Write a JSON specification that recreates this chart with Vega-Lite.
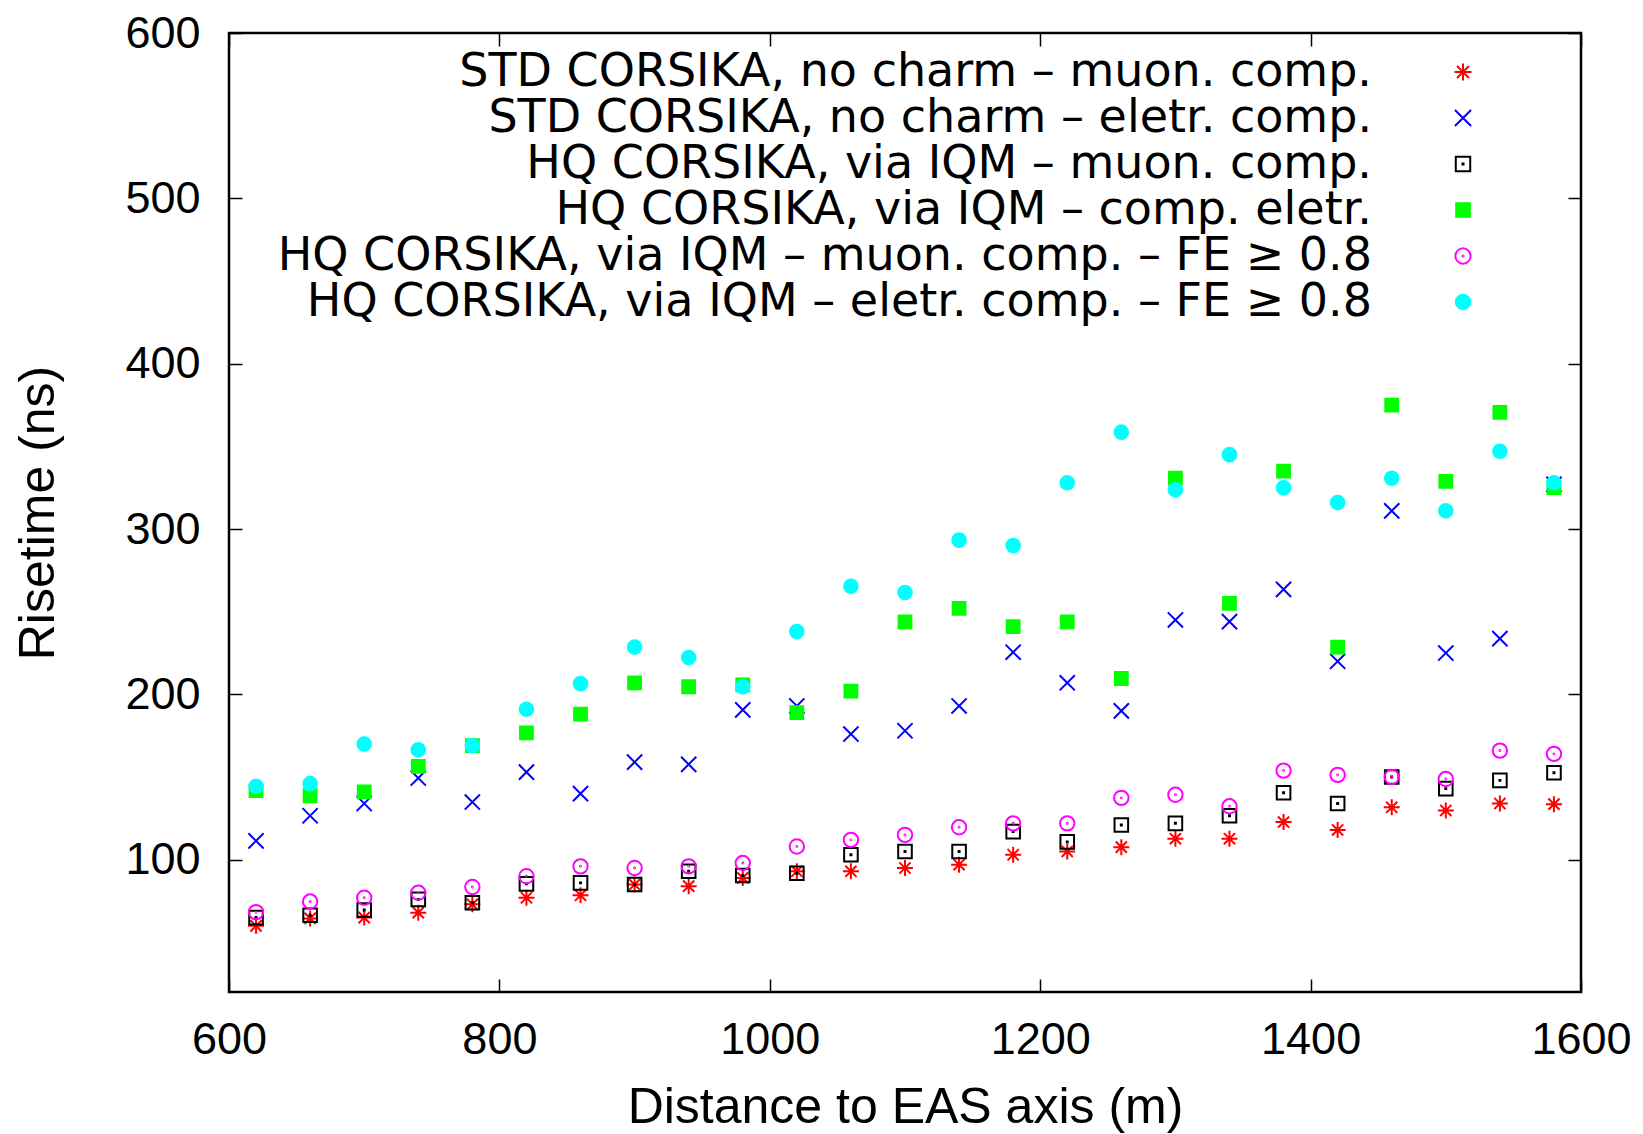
{
  "$schema": "https://vega.github.io/schema/vega-lite/v6.json",
  "width": 1352,
  "height": 959,
  "autosize": {"type": "none"},
  "padding": {"left": 229, "top": 33, "right": 62, "bottom": 142},
  "background": "white",
  "config": {
    "font": "Liberation Sans",
    "view": {"stroke": "black", "strokeWidth": 2.5},
    "axis": {"grid": false, "domain": false, "tickColor": "black", "tickWidth": 1.5, "labelColor": "black", "titleColor": "black", "labelFont": "Liberation Sans", "titleFont": "Liberation Sans", "labelFontSize": 45, "titleFontSize": 50, "titleFontWeight": "normal", "labelFlush": false, "labelOverlap": false}
  },
  "data": {"values": [
    {"s": "STD CORSIKA, no charm – muon. comp.", "x": 620, "y": 60},
    {"s": "STD CORSIKA, no charm – muon. comp.", "x": 660, "y": 64.5},
    {"s": "STD CORSIKA, no charm – muon. comp.", "x": 700, "y": 65},
    {"s": "STD CORSIKA, no charm – muon. comp.", "x": 740, "y": 68},
    {"s": "STD CORSIKA, no charm – muon. comp.", "x": 780, "y": 73},
    {"s": "STD CORSIKA, no charm – muon. comp.", "x": 820, "y": 77},
    {"s": "STD CORSIKA, no charm – muon. comp.", "x": 860, "y": 78.5},
    {"s": "STD CORSIKA, no charm – muon. comp.", "x": 900, "y": 85},
    {"s": "STD CORSIKA, no charm – muon. comp.", "x": 940, "y": 84},
    {"s": "STD CORSIKA, no charm – muon. comp.", "x": 980, "y": 89},
    {"s": "STD CORSIKA, no charm – muon. comp.", "x": 1020, "y": 93},
    {"s": "STD CORSIKA, no charm – muon. comp.", "x": 1060, "y": 93},
    {"s": "STD CORSIKA, no charm – muon. comp.", "x": 1100, "y": 95},
    {"s": "STD CORSIKA, no charm – muon. comp.", "x": 1140, "y": 97},
    {"s": "STD CORSIKA, no charm – muon. comp.", "x": 1180, "y": 103},
    {"s": "STD CORSIKA, no charm – muon. comp.", "x": 1220, "y": 105},
    {"s": "STD CORSIKA, no charm – muon. comp.", "x": 1260, "y": 107.6},
    {"s": "STD CORSIKA, no charm – muon. comp.", "x": 1300, "y": 112.7},
    {"s": "STD CORSIKA, no charm – muon. comp.", "x": 1340, "y": 112.7},
    {"s": "STD CORSIKA, no charm – muon. comp.", "x": 1380, "y": 122.8},
    {"s": "STD CORSIKA, no charm – muon. comp.", "x": 1420, "y": 118},
    {"s": "STD CORSIKA, no charm – muon. comp.", "x": 1460, "y": 131.7},
    {"s": "STD CORSIKA, no charm – muon. comp.", "x": 1500, "y": 129.8},
    {"s": "STD CORSIKA, no charm – muon. comp.", "x": 1540, "y": 134},
    {"s": "STD CORSIKA, no charm – muon. comp.", "x": 1580, "y": 133.6},
    {"s": "STD CORSIKA, no charm – eletr. comp.", "x": 620, "y": 111.4},
    {"s": "STD CORSIKA, no charm – eletr. comp.", "x": 660, "y": 126.6},
    {"s": "STD CORSIKA, no charm – eletr. comp.", "x": 700, "y": 134},
    {"s": "STD CORSIKA, no charm – eletr. comp.", "x": 740, "y": 149.4},
    {"s": "STD CORSIKA, no charm – eletr. comp.", "x": 780, "y": 134.9},
    {"s": "STD CORSIKA, no charm – eletr. comp.", "x": 820, "y": 153},
    {"s": "STD CORSIKA, no charm – eletr. comp.", "x": 860, "y": 140},
    {"s": "STD CORSIKA, no charm – eletr. comp.", "x": 900, "y": 159},
    {"s": "STD CORSIKA, no charm – eletr. comp.", "x": 940, "y": 157.7},
    {"s": "STD CORSIKA, no charm – eletr. comp.", "x": 980, "y": 190.6},
    {"s": "STD CORSIKA, no charm – eletr. comp.", "x": 1020, "y": 193},
    {"s": "STD CORSIKA, no charm – eletr. comp.", "x": 1060, "y": 176},
    {"s": "STD CORSIKA, no charm – eletr. comp.", "x": 1100, "y": 178},
    {"s": "STD CORSIKA, no charm – eletr. comp.", "x": 1140, "y": 193},
    {"s": "STD CORSIKA, no charm – eletr. comp.", "x": 1180, "y": 225.5},
    {"s": "STD CORSIKA, no charm – eletr. comp.", "x": 1220, "y": 207},
    {"s": "STD CORSIKA, no charm – eletr. comp.", "x": 1260, "y": 190},
    {"s": "STD CORSIKA, no charm – eletr. comp.", "x": 1300, "y": 245},
    {"s": "STD CORSIKA, no charm – eletr. comp.", "x": 1340, "y": 244},
    {"s": "STD CORSIKA, no charm – eletr. comp.", "x": 1380, "y": 263.5},
    {"s": "STD CORSIKA, no charm – eletr. comp.", "x": 1420, "y": 220},
    {"s": "STD CORSIKA, no charm – eletr. comp.", "x": 1460, "y": 311},
    {"s": "STD CORSIKA, no charm – eletr. comp.", "x": 1500, "y": 225},
    {"s": "STD CORSIKA, no charm – eletr. comp.", "x": 1540, "y": 233.7},
    {"s": "STD CORSIKA, no charm – eletr. comp.", "x": 1580, "y": 327},
    {"s": "HQ CORSIKA, via IQM – muon. comp.", "x": 620, "y": 65},
    {"s": "HQ CORSIKA, via IQM – muon. comp.", "x": 660, "y": 66.4},
    {"s": "HQ CORSIKA, via IQM – muon. comp.", "x": 700, "y": 69.6},
    {"s": "HQ CORSIKA, via IQM – muon. comp.", "x": 740, "y": 76},
    {"s": "HQ CORSIKA, via IQM – muon. comp.", "x": 780, "y": 74},
    {"s": "HQ CORSIKA, via IQM – muon. comp.", "x": 820, "y": 85.4},
    {"s": "HQ CORSIKA, via IQM – muon. comp.", "x": 860, "y": 86},
    {"s": "HQ CORSIKA, via IQM – muon. comp.", "x": 900, "y": 85},
    {"s": "HQ CORSIKA, via IQM – muon. comp.", "x": 940, "y": 93},
    {"s": "HQ CORSIKA, via IQM – muon. comp.", "x": 980, "y": 90.5},
    {"s": "HQ CORSIKA, via IQM – muon. comp.", "x": 1020, "y": 91.8},
    {"s": "HQ CORSIKA, via IQM – muon. comp.", "x": 1060, "y": 103},
    {"s": "HQ CORSIKA, via IQM – muon. comp.", "x": 1100, "y": 105},
    {"s": "HQ CORSIKA, via IQM – muon. comp.", "x": 1140, "y": 105},
    {"s": "HQ CORSIKA, via IQM – muon. comp.", "x": 1180, "y": 117},
    {"s": "HQ CORSIKA, via IQM – muon. comp.", "x": 1220, "y": 110.8},
    {"s": "HQ CORSIKA, via IQM – muon. comp.", "x": 1260, "y": 121},
    {"s": "HQ CORSIKA, via IQM – muon. comp.", "x": 1300, "y": 122},
    {"s": "HQ CORSIKA, via IQM – muon. comp.", "x": 1340, "y": 126.6},
    {"s": "HQ CORSIKA, via IQM – muon. comp.", "x": 1380, "y": 140.5},
    {"s": "HQ CORSIKA, via IQM – muon. comp.", "x": 1420, "y": 134},
    {"s": "HQ CORSIKA, via IQM – muon. comp.", "x": 1460, "y": 150},
    {"s": "HQ CORSIKA, via IQM – muon. comp.", "x": 1500, "y": 143},
    {"s": "HQ CORSIKA, via IQM – muon. comp.", "x": 1540, "y": 148},
    {"s": "HQ CORSIKA, via IQM – muon. comp.", "x": 1580, "y": 152.6},
    {"s": "HQ CORSIKA, via IQM – comp. eletr.", "x": 620, "y": 141.8},
    {"s": "HQ CORSIKA, via IQM – comp. eletr.", "x": 660, "y": 138.7},
    {"s": "HQ CORSIKA, via IQM – comp. eletr.", "x": 700, "y": 141},
    {"s": "HQ CORSIKA, via IQM – comp. eletr.", "x": 740, "y": 156.4},
    {"s": "HQ CORSIKA, via IQM – comp. eletr.", "x": 780, "y": 169},
    {"s": "HQ CORSIKA, via IQM – comp. eletr.", "x": 820, "y": 176.7},
    {"s": "HQ CORSIKA, via IQM – comp. eletr.", "x": 860, "y": 188},
    {"s": "HQ CORSIKA, via IQM – comp. eletr.", "x": 900, "y": 207},
    {"s": "HQ CORSIKA, via IQM – comp. eletr.", "x": 940, "y": 204.6},
    {"s": "HQ CORSIKA, via IQM – comp. eletr.", "x": 980, "y": 205.8},
    {"s": "HQ CORSIKA, via IQM – comp. eletr.", "x": 1020, "y": 189},
    {"s": "HQ CORSIKA, via IQM – comp. eletr.", "x": 1060, "y": 202},
    {"s": "HQ CORSIKA, via IQM – comp. eletr.", "x": 1100, "y": 243.9},
    {"s": "HQ CORSIKA, via IQM – comp. eletr.", "x": 1140, "y": 252},
    {"s": "HQ CORSIKA, via IQM – comp. eletr.", "x": 1180, "y": 241},
    {"s": "HQ CORSIKA, via IQM – comp. eletr.", "x": 1220, "y": 243.9},
    {"s": "HQ CORSIKA, via IQM – comp. eletr.", "x": 1260, "y": 209.6},
    {"s": "HQ CORSIKA, via IQM – comp. eletr.", "x": 1300, "y": 330.7},
    {"s": "HQ CORSIKA, via IQM – comp. eletr.", "x": 1340, "y": 255},
    {"s": "HQ CORSIKA, via IQM – comp. eletr.", "x": 1380, "y": 335},
    {"s": "HQ CORSIKA, via IQM – comp. eletr.", "x": 1420, "y": 228.6},
    {"s": "HQ CORSIKA, via IQM – comp. eletr.", "x": 1460, "y": 375},
    {"s": "HQ CORSIKA, via IQM – comp. eletr.", "x": 1500, "y": 328.8},
    {"s": "HQ CORSIKA, via IQM – comp. eletr.", "x": 1540, "y": 370.6},
    {"s": "HQ CORSIKA, via IQM – comp. eletr.", "x": 1580, "y": 325},
    {"s": "HQ CORSIKA, via IQM – muon. comp. – FE ≥ 0.8", "x": 620, "y": 68.3},
    {"s": "HQ CORSIKA, via IQM – muon. comp. – FE ≥ 0.8", "x": 660, "y": 74.7},
    {"s": "HQ CORSIKA, via IQM – muon. comp. – FE ≥ 0.8", "x": 700, "y": 77},
    {"s": "HQ CORSIKA, via IQM – muon. comp. – FE ≥ 0.8", "x": 740, "y": 80},
    {"s": "HQ CORSIKA, via IQM – muon. comp. – FE ≥ 0.8", "x": 780, "y": 83.5},
    {"s": "HQ CORSIKA, via IQM – muon. comp. – FE ≥ 0.8", "x": 820, "y": 90},
    {"s": "HQ CORSIKA, via IQM – muon. comp. – FE ≥ 0.8", "x": 860, "y": 96},
    {"s": "HQ CORSIKA, via IQM – muon. comp. – FE ≥ 0.8", "x": 900, "y": 95},
    {"s": "HQ CORSIKA, via IQM – muon. comp. – FE ≥ 0.8", "x": 940, "y": 96},
    {"s": "HQ CORSIKA, via IQM – muon. comp. – FE ≥ 0.8", "x": 980, "y": 98},
    {"s": "HQ CORSIKA, via IQM – muon. comp. – FE ≥ 0.8", "x": 1020, "y": 108},
    {"s": "HQ CORSIKA, via IQM – muon. comp. – FE ≥ 0.8", "x": 1060, "y": 112},
    {"s": "HQ CORSIKA, via IQM – muon. comp. – FE ≥ 0.8", "x": 1100, "y": 115},
    {"s": "HQ CORSIKA, via IQM – muon. comp. – FE ≥ 0.8", "x": 1140, "y": 119.6},
    {"s": "HQ CORSIKA, via IQM – muon. comp. – FE ≥ 0.8", "x": 1180, "y": 122},
    {"s": "HQ CORSIKA, via IQM – muon. comp. – FE ≥ 0.8", "x": 1220, "y": 122},
    {"s": "HQ CORSIKA, via IQM – muon. comp. – FE ≥ 0.8", "x": 1260, "y": 137.4},
    {"s": "HQ CORSIKA, via IQM – muon. comp. – FE ≥ 0.8", "x": 1300, "y": 139.3},
    {"s": "HQ CORSIKA, via IQM – muon. comp. – FE ≥ 0.8", "x": 1340, "y": 132.3},
    {"s": "HQ CORSIKA, via IQM – muon. comp. – FE ≥ 0.8", "x": 1380, "y": 153.9},
    {"s": "HQ CORSIKA, via IQM – muon. comp. – FE ≥ 0.8", "x": 1420, "y": 151.3},
    {"s": "HQ CORSIKA, via IQM – muon. comp. – FE ≥ 0.8", "x": 1460, "y": 150},
    {"s": "HQ CORSIKA, via IQM – muon. comp. – FE ≥ 0.8", "x": 1500, "y": 148.8},
    {"s": "HQ CORSIKA, via IQM – muon. comp. – FE ≥ 0.8", "x": 1540, "y": 166},
    {"s": "HQ CORSIKA, via IQM – muon. comp. – FE ≥ 0.8", "x": 1580, "y": 164},
    {"s": "HQ CORSIKA, via IQM – eletr. comp. – FE ≥ 0.8", "x": 620, "y": 144.4},
    {"s": "HQ CORSIKA, via IQM – eletr. comp. – FE ≥ 0.8", "x": 660, "y": 146},
    {"s": "HQ CORSIKA, via IQM – eletr. comp. – FE ≥ 0.8", "x": 700, "y": 170},
    {"s": "HQ CORSIKA, via IQM – eletr. comp. – FE ≥ 0.8", "x": 740, "y": 166.5},
    {"s": "HQ CORSIKA, via IQM – eletr. comp. – FE ≥ 0.8", "x": 780, "y": 169},
    {"s": "HQ CORSIKA, via IQM – eletr. comp. – FE ≥ 0.8", "x": 820, "y": 191},
    {"s": "HQ CORSIKA, via IQM – eletr. comp. – FE ≥ 0.8", "x": 860, "y": 206.5},
    {"s": "HQ CORSIKA, via IQM – eletr. comp. – FE ≥ 0.8", "x": 900, "y": 228.6},
    {"s": "HQ CORSIKA, via IQM – eletr. comp. – FE ≥ 0.8", "x": 940, "y": 222.3},
    {"s": "HQ CORSIKA, via IQM – eletr. comp. – FE ≥ 0.8", "x": 980, "y": 204.6},
    {"s": "HQ CORSIKA, via IQM – eletr. comp. – FE ≥ 0.8", "x": 1020, "y": 238},
    {"s": "HQ CORSIKA, via IQM – eletr. comp. – FE ≥ 0.8", "x": 1060, "y": 265.4},
    {"s": "HQ CORSIKA, via IQM – eletr. comp. – FE ≥ 0.8", "x": 1100, "y": 261.6},
    {"s": "HQ CORSIKA, via IQM – eletr. comp. – FE ≥ 0.8", "x": 1140, "y": 293.3},
    {"s": "HQ CORSIKA, via IQM – eletr. comp. – FE ≥ 0.8", "x": 1180, "y": 290},
    {"s": "HQ CORSIKA, via IQM – eletr. comp. – FE ≥ 0.8", "x": 1220, "y": 328},
    {"s": "HQ CORSIKA, via IQM – eletr. comp. – FE ≥ 0.8", "x": 1260, "y": 358.6},
    {"s": "HQ CORSIKA, via IQM – eletr. comp. – FE ≥ 0.8", "x": 1300, "y": 323.7},
    {"s": "HQ CORSIKA, via IQM – eletr. comp. – FE ≥ 0.8", "x": 1340, "y": 345},
    {"s": "HQ CORSIKA, via IQM – eletr. comp. – FE ≥ 0.8", "x": 1380, "y": 325},
    {"s": "HQ CORSIKA, via IQM – eletr. comp. – FE ≥ 0.8", "x": 1420, "y": 316},
    {"s": "HQ CORSIKA, via IQM – eletr. comp. – FE ≥ 0.8", "x": 1460, "y": 330.7},
    {"s": "HQ CORSIKA, via IQM – eletr. comp. – FE ≥ 0.8", "x": 1500, "y": 311},
    {"s": "HQ CORSIKA, via IQM – eletr. comp. – FE ≥ 0.8", "x": 1540, "y": 347},
    {"s": "HQ CORSIKA, via IQM – eletr. comp. – FE ≥ 0.8", "x": 1580, "y": 328}
  ]},
  "resolve": {"axis": {"x": "independent", "y": "independent"}},
  "layer": [
    {
      "mark": {"type": "point", "filled": false, "strokeWidth": 2, "size": 256, "opacity": 1},
      "encoding": {
        "x": {"field": "x", "type": "quantitative", "scale": {"domain": [600, 1600], "nice": false, "zero": false},
          "axis": {"values": [600, 800, 1000, 1200, 1400, 1600], "format": "d", "tickSize": -13, "labelPadding": 38, "title": "Distance to EAS axis (m)", "titlePadding": 20}},
        "y": {"field": "y", "type": "quantitative", "scale": {"domain": [20, 600], "nice": false, "zero": false},
          "axis": {"values": [100, 200, 300, 400, 500, 600], "format": "d", "tickSize": -13, "labelPadding": 42, "title": "Risetime (ns)", "titlePadding": 61}},
        "color": {"field": "s", "type": "nominal",
          "scale": {"domain": ["STD CORSIKA, no charm – muon. comp.", "STD CORSIKA, no charm – eletr. comp.", "HQ CORSIKA, via IQM – muon. comp.", "HQ CORSIKA, via IQM – comp. eletr.", "HQ CORSIKA, via IQM – muon. comp. – FE ≥ 0.8", "HQ CORSIKA, via IQM – eletr. comp. – FE ≥ 0.8"],
            "range": ["#ff0000", "#0000ff", "#000000", "#00ff00", "#ff00ff", "#00ffff"]},
          "legend": {"orient": "none", "legendX": 1211, "legendY": 16, "title": null, "labelAlign": "right", "labelOffset": -114, "labelFontSize": 46, "labelFont": "DejaVu Sans", "labelColor": "black", "labelLimit": 0, "symbolSize": 289, "symbolStrokeWidth": 2, "rowPadding": 0}},
        "fill": {"field": "s", "type": "nominal",
          "scale": {"domain": ["STD CORSIKA, no charm – muon. comp.", "STD CORSIKA, no charm – eletr. comp.", "HQ CORSIKA, via IQM – muon. comp.", "HQ CORSIKA, via IQM – comp. eletr.", "HQ CORSIKA, via IQM – muon. comp. – FE ≥ 0.8", "HQ CORSIKA, via IQM – eletr. comp. – FE ≥ 0.8"],
            "range": ["transparent", "transparent", "transparent", "#00ff00", "transparent", "#00ffff"]}},
        "shape": {"field": "s", "type": "nominal",
          "scale": {"domain": ["STD CORSIKA, no charm – muon. comp.", "STD CORSIKA, no charm – eletr. comp.", "HQ CORSIKA, via IQM – muon. comp.", "HQ CORSIKA, via IQM – comp. eletr.", "HQ CORSIKA, via IQM – muon. comp. – FE ≥ 0.8", "HQ CORSIKA, via IQM – eletr. comp. – FE ≥ 0.8"],
            "range": [
              "M-1,0L1,0M0,-1L0,1M-0.7,-0.7L0.7,0.7M-0.7,0.7L0.7,-0.7",
              "M-0.95,-0.95L0.95,0.95M-0.95,0.95L0.95,-0.95",
              "M-0.85,-0.85H0.85V0.85H-0.85Z M-0.06,-0.06H0.06V0.06H-0.06Z",
              "M-0.8,-0.8H0.8V0.8H-0.8Z",
              "M0.9,0A0.9,0.9 0 1,1 -0.9,0A0.9,0.9 0 1,1 0.9,0Z M0.06,0A0.06,0.06 0 1,1 -0.06,0A0.06,0.06 0 1,1 0.06,0Z",
              "M0.85,0A0.85,0.85 0 1,1 -0.85,0A0.85,0.85 0 1,1 0.85,0Z"
            ]}}
      }
    },
    {
      "mark": {"type": "point", "opacity": 0},
      "encoding": {
        "x": {"field": "x", "type": "quantitative", "axis": {"orient": "top", "values": [600, 800, 1000, 1200, 1400, 1600], "tickSize": -13, "labels": false, "title": null}},
        "y": {"field": "y", "type": "quantitative", "axis": {"orient": "right", "values": [100, 200, 300, 400, 500, 600], "tickSize": -13, "labels": false, "title": null}}
      }
    }
  ]
}
